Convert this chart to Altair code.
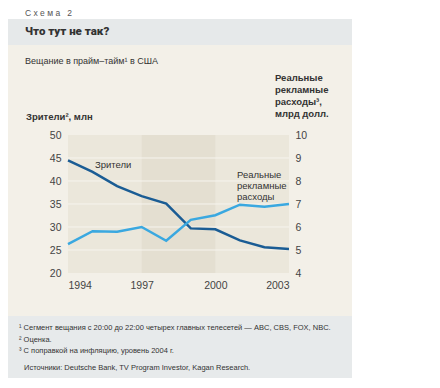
import altair as alt
import pandas as pd

# ---- data ----
years = [1994, 1995, 1996, 1997, 1998, 1999, 2000, 2001, 2002, 2003]
viewers = [44.5, 42.0, 38.9, 36.7, 35.1, 29.7, 29.5, 27.1, 25.6, 25.2]
ad_spend = [5.26, 5.82, 5.79, 6.0, 5.4, 6.31, 6.51, 6.97, 6.88, 7.0]
left_ticks = [20, 25, 30, 35, 40, 45, 50]
right_ticks = [4, 5, 6, 7, 8, 9, 10]
x_ticks = [1994, 1997, 2000, 2003]
grid_vals = [25, 30, 35, 40, 45]
shade_from, shade_to = 1997, 2000

NB = "\u00a0"
kicker = NB.join(["С", "х", "е", "м", "а", NB, "2"])
headline = "Что тут не так?"
subtitle = "Вещание в прайм–тайм¹ в США"
left_title = "Зрители², млн"
right_title = ["Реальные", "рекламные", "расходы³,", "млрд долл."]
label_viewers = "Зрители"
label_ad = ["Реальные", "рекламные", "расходы"]
notes = [
    "¹ Сегмент вещания с 20:00 до 22:00 четырех главных телесетей — ABC, CBS, FOX, NBC.",
    "² Оценка.",
    "³ С поправкой на инфляцию, уровень 2004 г.",
]
source = "Источники: Deutsche Bank, TV Program Investor, Kagan Research."

df = pd.DataFrame({"year": years, "viewers": viewers, "ad": ad_spend})
one = pd.DataFrame({"a": [0]})

NARROW = "Liberation Sans, Arial, sans-serif"
DARK = "#1a5c94"
LIGHT = "#3aa8e0"
TXT = "#333333"

xs = alt.Scale(domain=[1994, 2003], nice=False, zero=False)
yl = alt.Scale(domain=[20, 50], nice=False, zero=False)
yr = alt.Scale(domain=[4, 10], nice=False, zero=False)

xaxis = alt.Axis(values=x_ticks, format="d", labelFlush=True, domain=False, ticks=False,
                 grid=False, labelFont=NARROW, labelFontSize=10.5, labelColor="#444",
                 labelPadding=7, title=None, zindex=1)
yaxis_l = alt.Axis(values=left_ticks, domain=False, ticks=False, grid=False,
                   labelFont=NARROW, labelFontSize=10.5, labelColor="#444",
                   labelPadding=7, title=None, zindex=1, orient="left")
yaxis_r = alt.Axis(values=right_ticks, domain=False, ticks=False, grid=False,
                   labelFont=NARROW, labelFontSize=10.5, labelColor="#444",
                   labelPadding=6, title=None, zindex=1, orient="right")


def panel(x0, x1, y0, y1, color):
    return alt.Chart(one).mark_rect(color=color).encode(
        x=alt.value(x0), x2=alt.value(x1), y=alt.value(y0), y2=alt.value(y1))


header = panel(-61, 284, -116, -90, "#e6e9ea")
body = panel(-61, 284, -90, 181, "#f3f0e8")
foot = panel(-61, 284, 181, 243, "#e7eaeb")

plot_bg = alt.Chart(one).mark_rect(color="#ebe7db").encode(
    x=alt.X(datum=1994, scale=xs, axis=xaxis), x2=alt.X2(datum=2003),
    y=alt.Y(datum=20, scale=yl, axis=yaxis_l), y2=alt.Y2(datum=50))
shade = alt.Chart(one).mark_rect(color="#e4dfd1").encode(
    x=alt.X(datum=shade_from, scale=xs, axis=xaxis), x2=alt.X2(datum=shade_to),
    y=alt.Y(datum=20, scale=yl, axis=yaxis_l), y2=alt.Y2(datum=50))
grid = alt.Chart(pd.DataFrame({"g": grid_vals})).mark_rule(
    color="#f6f4ee", strokeWidth=1).encode(
    y=alt.Y("g:Q", scale=yl, axis=yaxis_l))
line_v = alt.Chart(df).mark_line(color=DARK, strokeWidth=2.5).encode(
    x=alt.X("year:Q", scale=xs, axis=xaxis),
    y=alt.Y("viewers:Q", scale=yl, axis=yaxis_l))
line_a = alt.Chart(df).mark_line(color=LIGHT, strokeWidth=2.5).encode(
    x=alt.X("year:Q", scale=xs, axis=xaxis),
    y=alt.Y("ad:Q", scale=yr, axis=yaxis_r))


def txt(text, x, y, size=10, weight="normal", font=NARROW, color=TXT,
        baseline="middle", align="left", lh=None):
    kw = dict(align=align, baseline=baseline, fontSize=size, fontWeight=weight,
              font=font, color=color)
    if lh:
        kw["lineHeight"] = lh
    return alt.Chart(one).mark_text(**kw).encode(
        x=alt.value(x), y=alt.value(y), text=alt.value(text))


texts = [
    txt(kicker, -43, -122, size=8.5, color="#555"),
    txt(headline, -43, -103, size=11.5, weight=900, font="Roboto, Arial, sans-serif"),
    txt(subtitle, -43, -74, size=9),
    txt(left_title, -42, -18, size=9.5, weight="bold"),
    txt(right_title, 207, -62, size=9.5, weight="bold", baseline="top", lh=12),
    txt(label_viewers, 27, 30, size=9.5),
    txt(label_ad, 169, 35, size=9.5, baseline="top", lh=11),
    txt(notes[0], -49, 193, size=7.5),
    txt(notes[1], -49, 205, size=7.5),
    txt(notes[2], -49, 216, size=7.5),
    txt(source, -44, 233, size=7.5),
]

left = alt.layer(header, body, foot, plot_bg, shade, grid, line_v)
chart = alt.layer(left, line_a, *texts).resolve_scale(y="independent").properties(
    width=221, height=138,
    autosize=alt.AutoSizeParams(type="none"),
    padding={"left": 60, "top": 127, "right": 71, "bottom": 105},
    background="white",
).configure_view(stroke=None)

chart.save("out.html", embed_options={"renderer": "svg", "actions": False})
